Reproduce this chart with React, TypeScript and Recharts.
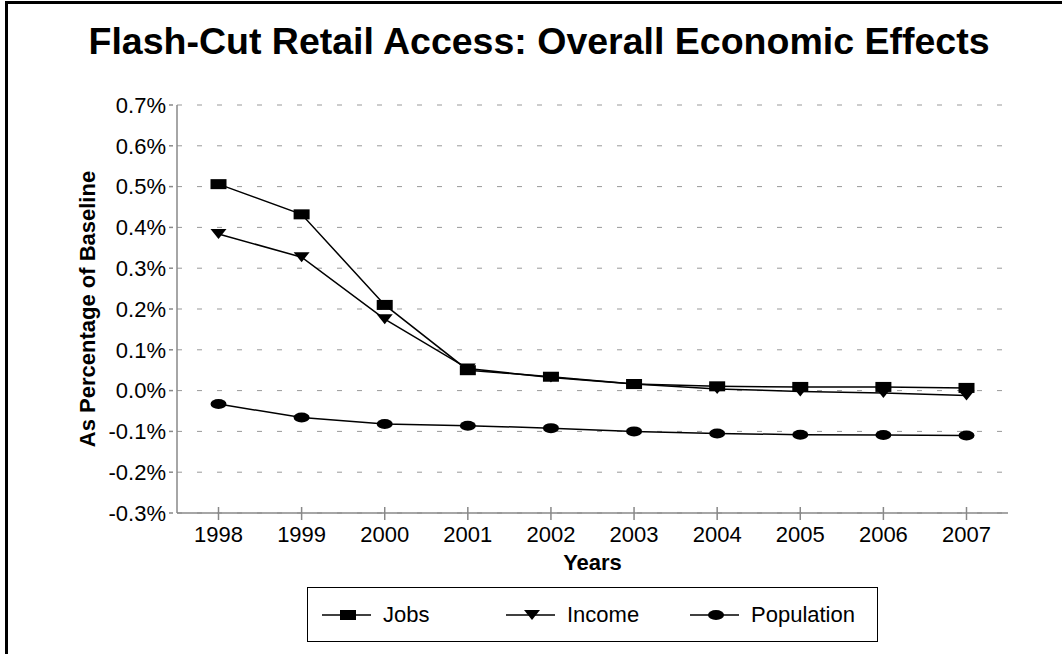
import React from 'react';
import { LineChart, Line, XAxis, YAxis, CartesianGrid, Legend } from 'recharts';

const years = ['1998', '1999', '2000', '2001', '2002', '2003', '2004', '2005', '2006', '2007'];
const jobs = [0.506, 0.432, 0.21, 0.05, 0.034, 0.016, 0.0105, 0.009, 0.009, 0.0066];
const income = [0.384, 0.327, 0.175, 0.054, 0.032, 0.016, 0.004, -0.002, -0.006, -0.012];
const population = [-0.033, -0.066, -0.082, -0.086, -0.092, -0.1, -0.105, -0.108, -0.109, -0.11];
const yTicks = [-0.3, -0.2, -0.1, 0, 0.1, 0.2, 0.3, 0.4, 0.5, 0.6, 0.7];

const data = years.map((year, i) => ({
  year,
  Jobs: jobs[i],
  Income: income[i],
  Population: population[i],
}));

const FONT = '"Liberation Sans", Arial, sans-serif';
const AXIS = '#888888';

// marker shapes, roughly 16x10 like the original
const Square = ({ cx, cy }: any) => <rect x={cx - 8} y={cy - 5} width={16} height={10} fill="#000" />;
const Tri = ({ cx, cy }: any) => (
  <polygon points={`${cx - 8},${cy - 5} ${cx + 8},${cy - 5} ${cx},${cy + 5}`} fill="#000" />
);
const Oval = ({ cx, cy }: any) => <ellipse cx={cx} cy={cy} rx={8} ry={5} fill="#000" />;

const markers: Record<string, (p: any) => React.ReactElement> = {
  Jobs: Square,
  Income: Tri,
  Population: Oval,
};

const series = ['Jobs', 'Income', 'Population'];

function LegendBox() {
  return (
    <div
      style={{
        boxSizing: 'border-box',
        width: 571,
        height: 55,
        border: '1px solid #000',
        display: 'flex',
        alignItems: 'center',
        paddingLeft: 14,
        background: '#fff',
      }}
    >
      {series.map((name) => {
        const M = markers[name];
        return (
          <div key={name} style={{ width: 184, display: 'flex', alignItems: 'center' }}>
            <svg width={49} height={14} style={{ display: 'block' }}>
              <line x1={0} y1={7} x2={49} y2={7} stroke="#000" strokeWidth={1.5} />
              <M cx={26} cy={7} />
            </svg>
            <span style={{ marginLeft: 12, fontSize: 22, color: '#000', fontFamily: FONT }}>{name}</span>
          </div>
        );
      })}
    </div>
  );
}

export default function App() {
  return (
    <div
      style={{
        position: 'absolute',
        left: 0,
        top: 0,
        width: 1062,
        height: 654,
        background: '#fff',
        overflow: 'hidden',
        fontFamily: FONT,
      }}
    >
      <div
        style={{
          position: 'absolute',
          left: 5,
          top: 1,
          width: 1070,
          height: 670,
          borderTop: '3px solid #000',
          borderLeft: '3px solid #000',
        }}
      />
      <div
        style={{
          position: 'absolute',
          left: 0,
          width: 1078,
          top: 22,
          textAlign: 'center',
          fontSize: 37.5,
          lineHeight: '38px',
          fontWeight: 'bold',
          color: '#000',
        }}
      >
        Flash-Cut Retail Access: Overall Economic Effects
      </div>
      <div style={{ position: 'absolute', left: 0, top: 0 }}>
        <LineChart width={1062} height={654} data={data} margin={{ top: 105, right: 54, left: 0, bottom: 81 }}>
          <CartesianGrid vertical={false} stroke="#999" strokeDasharray="5 15" />
          <XAxis
            dataKey="year"
            interval={0}
            padding={{ left: 41.5, right: 41.5 }}
            height={60}
            stroke={AXIS}
            strokeWidth={1.5}
            tickSize={13}
            tickMargin={0}
            tickLine={{ stroke: AXIS, transform: 'translate(0,-6)' }}
            tick={{ fontSize: 22, fill: '#000' }}
            label={{
              value: 'Years',
              position: 'insideBottom',
              offset: 3,
              style: { fontSize: 22, fontWeight: 'bold', fill: '#000' },
            }}
          />
          <XAxis
            xAxisId="top"
            dataKey="year"
            orientation="top"
            height={0}
            tick={false}
            tickLine={false}
            stroke={AXIS}
            strokeWidth={1.5}
            padding={{ left: 41.5, right: 41.5 }}
          />
          <YAxis
            width={177}
            type="number"
            domain={[-0.3, 0.7]}
            ticks={yTicks}
            interval={0}
            allowDataOverflow
            stroke={AXIS}
            strokeWidth={1.5}
            tickSize={8}
            tickMargin={3}
            tickLine={{ stroke: AXIS, strokeDasharray: '4 4' }}
            tick={{ fontSize: 22, fill: '#000' }}
            tickFormatter={(v: number) => v.toFixed(1) + '%'}
            label={{
              value: 'As Percentage of Baseline',
              angle: -90,
              position: 'center',
              dx: -1,
              style: { fontSize: 22, fontWeight: 'bold', fill: '#000', textAnchor: 'middle' },
            }}
          />
          <YAxis
            yAxisId="right"
            orientation="right"
            width={0}
            type="number"
            domain={[-0.3, 0.7]}
            tick={false}
            tickLine={false}
            stroke={AXIS}
            strokeWidth={1.5}
          />
          <Legend
            verticalAlign="middle"
            align="center"
            content={() => <LegendBox />}
            wrapperStyle={{ left: 307, top: 587, width: 571, height: 55 }}
          />
          {series.map((name) => {
            const M = markers[name];
            return (
              <Line
                key={name}
                dataKey={name}
                stroke="#000"
                strokeWidth={1.5}
                isAnimationActive={false}
                activeDot={false}
                dot={(p: any) => <M key={`${name}-${p.index}`} cx={p.cx} cy={p.cy} />}
              />
            );
          })}
        </LineChart>
      </div>
    </div>
  );
}
